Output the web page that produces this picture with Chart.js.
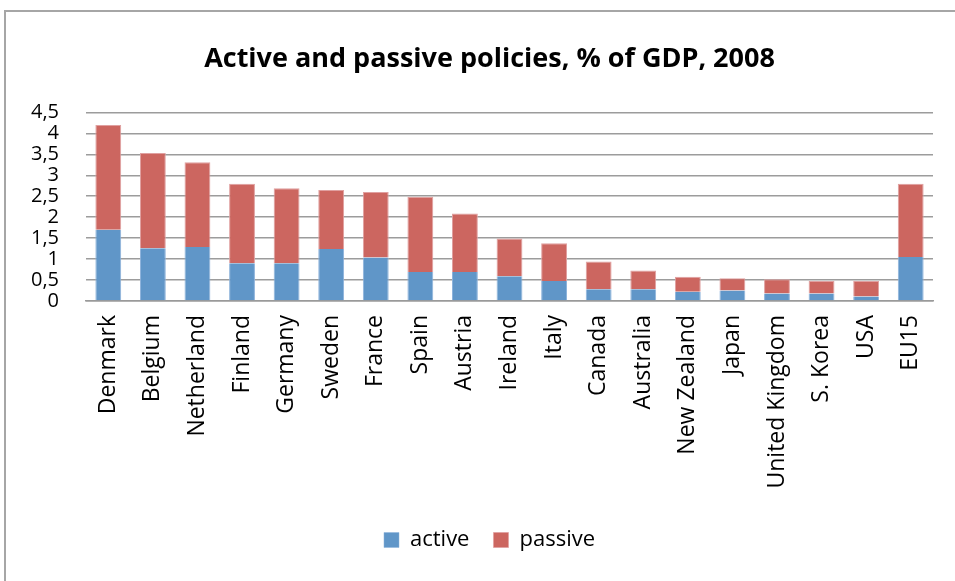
<!DOCTYPE html>
<html><head><meta charset="utf-8">
<script src="https://cdn.jsdelivr.net/npm/chart.js@4/dist/chart.umd.min.js"></script>
<style>
html,body{margin:0;padding:0;background:#fff;overflow:hidden}
#frame{position:absolute;left:4px;top:10px;width:970px;height:590px;border:2px solid #a6a6a6;box-sizing:border-box}
#wrap{position:absolute;left:0;top:0;width:955px;height:581px}
</style></head><body>
<div id="frame"></div>
<div id="wrap"><canvas id="c" width="955" height="581"></canvas></div>
<script>
const categories = ["Denmark","Belgium","Netherland","Finland","Germany","Sweden","France","Spain","Austria","Ireland","Italy","Canada","Australia","New Zealand","Japan","United Kingdom","S. Korea","USA","EU15"];
const activeValues = [1.70,1.26,1.29,0.90,0.90,1.24,1.04,0.69,0.69,0.59,0.48,0.28,0.28,0.22,0.25,0.18,0.18,0.11,1.05];
const passiveValues = [2.50,2.27,2.02,1.90,1.79,1.41,1.56,1.80,1.40,0.90,0.90,0.66,0.45,0.36,0.29,0.34,0.30,0.37,1.75];
const yTicks = ["0","0,5","1","1,5","2","2,5","3","3,5","4","4,5"];
const titleText = "Active and passive policies, % of GDP, 2008";

const font = "'Open Sans', Lato, sans-serif";
const shiftBlocks = {
  id: 'shiftBlocks',
  afterLayout(chart) {
    chart.titleBlock.left += 46;
    chart.legend.left += 46;
  }
};
new Chart(document.getElementById('c'), {
  type: 'bar',
  data: {
    labels: categories,
    datasets: [
      {label: 'active', data: activeValues, backgroundColor: '#6096c8', borderColor:'#8db3db', borderWidth:{left:1,right:1,top:0,bottom:0}, categoryPercentage: 0.58, barPercentage: 1},
      {label: 'passive', data: passiveValues, backgroundColor: '#cc6660', borderColor:'#e0a0a0', borderWidth:{left:1,right:1,top:1,bottom:0}, categoryPercentage: 0.58, barPercentage: 1}
    ]
  },
  plugins: [shiftBlocks],
  options: {
    responsive: false,
    animation: false,
    layout: {padding: {left: 0, right: 22, top: 0, bottom: 20}},
    plugins: {
      title: {display: true, text: titleText, color: '#000', font: {family: font, size: 27, weight: 'bold'}, padding: {top: 43, bottom: 37}},
      legend: {position: 'bottom', labels: {color: '#000', font: {family: font, size: 22}, boxWidth: 15, boxHeight: 15, padding: 24}},
      tooltip: {enabled: false}
    },
    scales: {
      x: {
        stacked: true,
        afterFit: s => { s.height = 204; },
        grid: {display: false, drawTicks: false},
        border: {color: '#9a9a9a', width: 1.5},
        ticks: {color: '#000', font: {family: font, size: 23}, maxRotation: 90, minRotation: 90, padding: 14, autoSkip: false}
      },
      y: {
        stacked: true,
        min: 0, max: 4.5,
        afterFit: s => { s.width = 86; },
        grid: {color: '#9c9c9c', lineWidth: 1.5, drawTicks: false},
        border: {display: false},
        ticks: {stepSize: 0.5, autoSkip: false, color: '#000', font: {family: font, size: 20}, padding: 27,
          callback: (v, i) => yTicks[i]}
      }
    }
  }
});
</script>
</body></html>
